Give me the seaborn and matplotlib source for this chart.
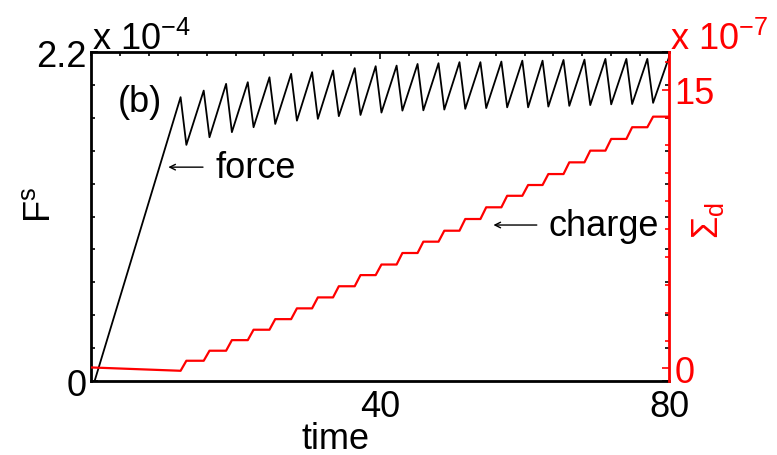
import numpy as np
import pandas as pd
import matplotlib
matplotlib.use("Agg")
import matplotlib.pyplot as plt
from matplotlib.ticker import FixedLocator
import seaborn as sns

# Stick-slip cycles: force maxima (slip onset) and minima (slip end), force in units of 1e-4
peak_time = [12.4, 15.6, 18.7, 21.7, 24.7, 27.7, 30.6, 33.5, 36.5, 39.4, 42.3, 45.2,
             48.1, 51.0, 53.9, 56.8, 59.7, 62.5, 65.4, 68.3, 71.2, 74.1, 77.0, 80.0]
peak_force = [1.898, 1.942, 1.987, 1.998, 2.031, 2.054, 2.065, 2.076, 2.092, 2.105, 2.109, 2.120,
              2.125, 2.132, 2.132, 2.136, 2.142, 2.142, 2.147, 2.149, 2.154, 2.154, 2.154, 2.165]
trough_time = [13.2, 16.4, 19.5, 22.5, 25.5, 28.5, 31.4, 34.3, 37.3, 40.2, 43.1, 46.0,
               48.9, 51.8, 54.7, 57.6, 60.5, 63.3, 66.2, 69.1, 72.0, 74.9, 77.8]
trough_force = [1.579, 1.630, 1.664, 1.697, 1.719, 1.741, 1.753, 1.771, 1.779, 1.795, 1.808, 1.810,
                1.815, 1.820, 1.825, 1.830, 1.830, 1.835, 1.840, 1.845, 1.850, 1.852, 1.860]
loading_start = (0.5, 0.0)

# Deposited charge (units of 1e-7): value at t=0, just before the first slip, and after each slip
charge_initial = [0.05, -0.13]
charge_level = [0.41, 0.95, 1.52, 2.08, 2.65, 3.23, 3.82, 4.42, 5.02, 5.59, 6.21, 6.82,
                7.41, 8.04, 8.67, 9.29, 9.87, 10.46, 11.09, 11.72, 12.35, 12.98, 13.55]
t_end = 80.0

# Force trace: linear loading, then saw-tooth stick-slip
f_t = [loading_start[0]]
f_v = [loading_start[1]]
for k in range(len(trough_time)):
    f_t += [peak_time[k], trough_time[k]]
    f_v += [peak_force[k], trough_force[k]]
f_t.append(peak_time[-1])
f_v.append(peak_force[-1])
force_df = pd.DataFrame({"time": f_t, "force": f_v})

# Charge trace: a step during each slip
c_t = [0.0]
c_v = [charge_initial[0]]
prev = charge_initial[1]
for k in range(len(charge_level)):
    c_t += [peak_time[k], trough_time[k]]
    c_v += [prev, charge_level[k]]
    prev = charge_level[k]
c_t.append(t_end)
c_v.append(prev)
charge_df = pd.DataFrame({"time": c_t, "charge": c_v})

sns.set_style("white")
plt.rcParams["font.family"] = ["Liberation Sans", "DejaVu Sans"]
plt.rcParams["mathtext.fontset"] = "custom"
plt.rcParams["mathtext.rm"] = "Liberation Sans"
plt.rcParams["mathtext.it"] = "Liberation Sans"
plt.rcParams["mathtext.default"] = "regular"
plt.rcParams["text.color"] = "black"
plt.rcParams["axes.labelcolor"] = "black"
plt.rcParams["xtick.color"] = "black"
plt.rcParams["ytick.color"] = "black"

W, H = 777, 456
fig = plt.figure(figsize=(W / 100, H / 100), dpi=100)
L, R, T, B = 91, 669, 53, 382
ax = fig.add_axes([L / W, 1 - B / H, (R - L) / W, (B - T) / H])
ax2 = ax.twinx()

FS = 26
RED = "#ff0000"

sns.lineplot(data=force_df, x="time", y="force", ax=ax, color="black", lw=1.3,
             sort=False, estimator=None)
sns.lineplot(data=charge_df, x="time", y="charge", ax=ax2, color=RED, lw=1.6,
             sort=False, estimator=None)

ax.set_xlim(0, 80)
ax.set_ylim(0, 2.2)
ax2.set_ylim(-0.68, 17.03)
ax.set_xlabel("")
ax.set_ylabel("")
ax2.set_ylabel("")

ax.set_xticks([40, 80])
ax.set_xticklabels(["40", "80"])
ax.xaxis.set_minor_locator(FixedLocator(np.arange(0, 81, 4)))
ax.set_yticks([0, 2.2])
ax.set_yticklabels(["0", "2.2"])
ax.yaxis.set_minor_locator(FixedLocator(np.arange(0, 2.21, 0.22)))
ax2.set_yticks([0, 15])
ax2.set_yticklabels(["0", "15"])
ax2.yaxis.set_minor_locator(FixedLocator(np.arange(0, 17.0, 1.5)))

ax.tick_params(axis="both", which="both", direction="in", top=True, right=True,
               color="black", labelcolor="black", labelsize=FS, width=1.2)
ax.tick_params(axis="both", which="major", length=5)
ax.tick_params(axis="both", which="minor", length=3)
ax.tick_params(axis="x", which="major", pad=6)
ax.tick_params(axis="y", which="major", pad=3)
ax2.tick_params(axis="y", which="both", direction="in", right=True, left=False,
                color=RED, labelcolor=RED, labelsize=FS, width=1.2, pad=4)
ax2.tick_params(axis="y", which="major", length=5)
ax2.tick_params(axis="y", which="minor", length=3)

for s in ["left", "bottom", "top"]:
    ax.spines[s].set_linewidth(2)
    ax.spines[s].set_color("black")
    ax2.spines[s].set_visible(False)
ax.spines["right"].set_visible(False)
ax2.spines["right"].set_color(RED)
ax2.spines["right"].set_linewidth(2)

# Annotations
ax.text(6.8, 1.866, "(b)", fontsize=FS, ha="center", va="center", color="black")
arrow = dict(arrowstyle="->", color="black", lw=1.0, shrinkA=0, shrinkB=0,
             mutation_scale=10)
ax.annotate("", xy=(10.7, 1.43), xytext=(15.5, 1.43), arrowprops=arrow)
ax.text(17.3, 1.43, "force", fontsize=FS, ha="left", va="center", color="black")
ax.annotate("", xy=(55.7, 1.043), xytext=(61.7, 1.043), arrowprops=arrow)
ax.text(63.3, 1.043, "charge", fontsize=FS, ha="left", va="center", color="black")

# Axis labels and scale factors
fig.text(92 / W, 1 - 50 / H, r"x 10$^{-4}$", fontsize=FS, ha="left", va="baseline",
         color="black")
fig.text(670 / W, 1 - 50 / H, r"x 10$^{-7}$", fontsize=FS, ha="left", va="baseline",
         color=RED)
fig.text(40 / W, 1 - 205 / H, r"F$^{s}$", fontsize=FS, rotation=90,
         ha="center", va="center", color="black")
fig.text(708 / W, 1 - 220 / H, r"Σ$_{d}$", fontsize=FS, rotation=90,
         ha="center", va="center", color=RED)
fig.text(335 / W, 1 - 440 / H, "time", fontsize=FS, ha="center", va="center",
         color="black")

fig.savefig("out.png", dpi=100)
